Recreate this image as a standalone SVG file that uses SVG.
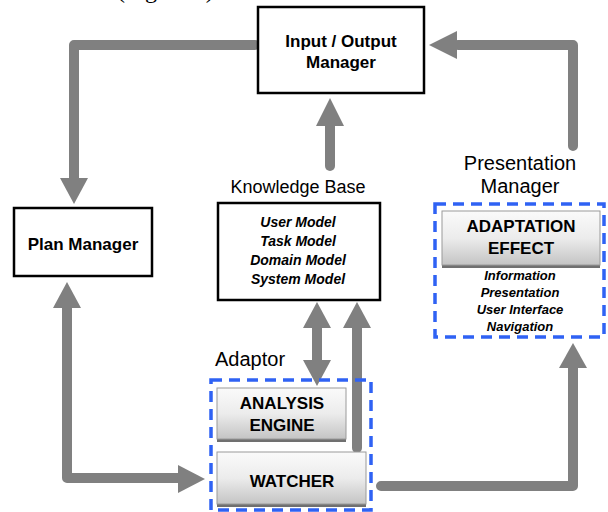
<svg xmlns="http://www.w3.org/2000/svg" width="608" height="512" viewBox="0 0 608 512">
<style>
.box{fill:#fff;stroke:#000;stroke-width:2.5}
.t{font-family:"Liberation Sans",Arial,sans-serif;font-weight:bold;font-size:17px;fill:#000;text-anchor:middle}
.lbl{font-family:"Liberation Sans",Arial,sans-serif;font-size:20px;fill:#000;text-anchor:middle}
.it{font-family:"Liberation Sans",Arial,sans-serif;font-weight:bold;font-style:italic;font-size:14px;fill:#000;text-anchor:middle}
.its{font-family:"Liberation Sans",Arial,sans-serif;font-weight:bold;font-style:italic;font-size:13px;fill:#000;text-anchor:middle}
.dash{fill:none;stroke:#2f62f4;stroke-width:3.5;stroke-dasharray:11 7}
.btn{fill:url(#g);stroke:#9a9a9a;stroke-width:1}
.sh{fill:#707070}
.ln{fill:none;stroke:#808080;stroke-width:10;stroke-linecap:round;stroke-linejoin:round}
.hd{fill:#808080}
</style>
<defs>
<linearGradient id="g" x1="0" y1="0" x2="0" y2="1">
<stop offset="0" stop-color="#fafafa"/>
<stop offset="0.5" stop-color="#ececec"/>
<stop offset="1" stop-color="#c4c4c4"/>
</linearGradient>
</defs>
<text x="117" y="-2" font-family="Liberation Serif,serif" font-size="24" fill="#000">(Figure 1)</text>
<g id="connectors">
<path class="ln" d="M255 45 H74 V180"/>
<polygon class="hd" points="60,178 88,178 74,204"/>
<path class="ln" d="M67 305 V478 H180"/>
<polygon class="hd" points="53,308 81,308 67,282"/>
<polygon class="hd" points="178,465 178,493 205,479"/>
<path class="ln" d="M330 166 V124"/>
<polygon class="hd" points="316,126 344,126 330,98"/>
<path class="ln" d="M573 146 V45 H458"/>
<polygon class="hd" points="457,31 457,59 429,45"/>
<path class="ln" d="M317 326 V362"/>
<polygon class="hd" points="303,328 331,328 317,302"/>
<polygon class="hd" points="303,360 331,360 317,386"/>
<path class="ln" d="M357 448 V326"/>
<polygon class="hd" points="343,328 371,328 357,302"/>
<path class="ln" d="M381 486 H573 V366"/>
<polygon class="hd" points="559,368 587,368 573,343"/>
</g>
<g id="io-manager">
<rect class="box" x="258" y="7" width="166" height="86"/>
<text class="t" x="341" y="47">Input / Output</text>
<text class="t" x="341" y="68">Manager</text>
</g>
<g id="plan-manager">
<rect class="box" x="14" y="208" width="138" height="68"/>
<text class="t" x="83" y="250">Plan Manager</text>
</g>
<g id="knowledge-base">
<text class="lbl" x="298" y="193" style="font-size:18px">Knowledge  Base</text>
<rect class="box" x="218" y="203" width="162" height="97"/>
<text class="it" x="298" y="227">User Model</text>
<text class="it" x="298" y="246">Task Model</text>
<text class="it" x="298" y="265">Domain Model</text>
<text class="it" x="298" y="284">System Model</text>
</g>
<g id="presentation-manager">
<text class="lbl" x="520" y="170">Presentation</text>
<text class="lbl" x="520" y="193">Manager</text>
<rect class="dash" x="435" y="204" width="169" height="133"/>
<g id="adaptation-effect">
<rect class="sh" x="442" y="213" width="158" height="55"/>
<rect class="btn" x="442" y="211" width="158" height="54"/>
<text class="t" x="521" y="232">ADAPTATION</text>
<text class="t" x="521" y="254">EFFECT</text>
</g>
<text class="its" x="520" y="280">Information</text>
<text class="its" x="520" y="297">Presentation</text>
<text class="its" x="520" y="314">User Interface</text>
<text class="its" x="520" y="331">Navigation</text>
</g>
<g id="adaptor">
<text class="lbl" x="215" y="366" style="text-anchor:start">Adaptor</text>
<rect class="dash" x="211" y="380" width="160" height="130"/>
<g id="analysis-engine">
<rect class="sh" x="217" y="390" width="129" height="52"/>
<rect class="btn" x="217" y="388" width="129" height="51"/>
<text class="t" x="282" y="409">ANALYSIS</text>
<text class="t" x="282" y="431">ENGINE</text>
</g>
<g id="watcher">
<rect class="sh" x="217" y="454" width="149" height="53"/>
<rect class="btn" x="217" y="452" width="149" height="52"/>
<text class="t" x="292" y="487">WATCHER</text>
</g>
</g>
</svg>
